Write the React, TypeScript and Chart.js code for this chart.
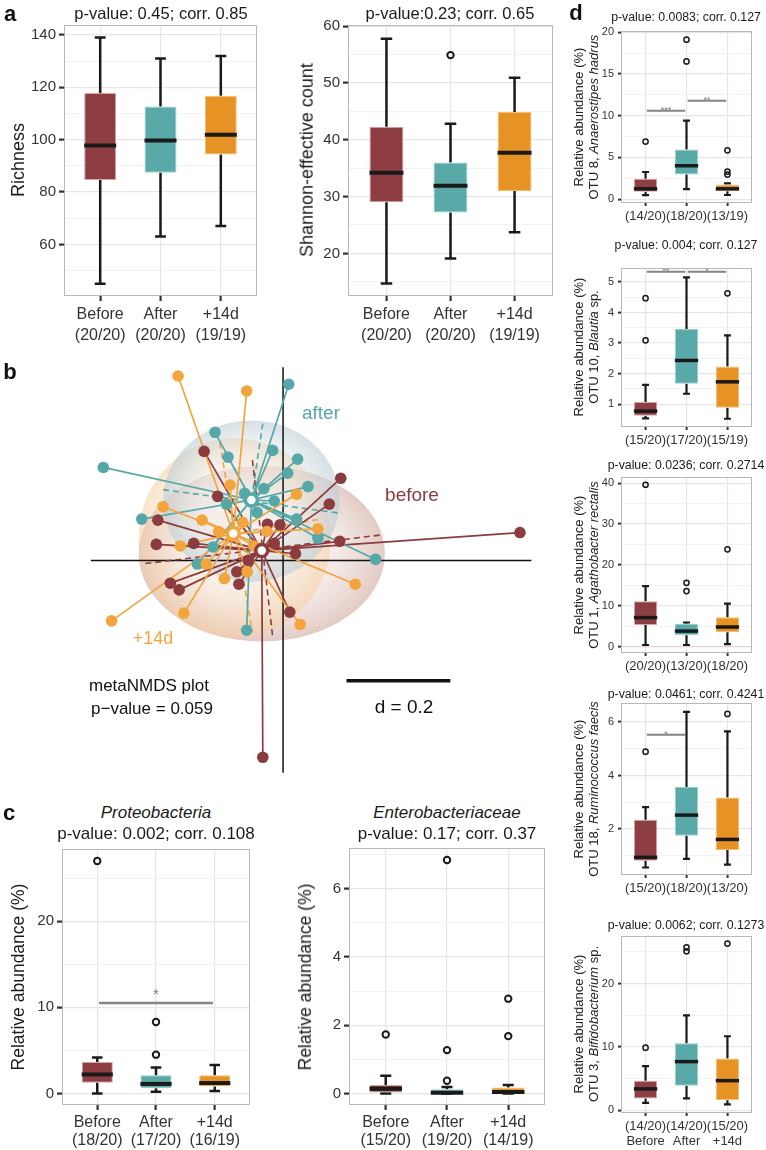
import React, { useEffect, useRef } from 'react';
import { Chart, registerables } from 'chart.js';

Chart.register(...registerables);

const FONT = '"Liberation Sans", Arial, Helvetica, sans-serif';
const CATS = ['Before', 'After', '+14d'];
const BOX_FILL = ['#8E3E43', '#58A9A8', '#E69224'];
const BOX_EDGE = ['#D9A3A5', '#93D1CE', '#F7BE6E'];
const NMDS_COL = ['#8C3B3F', '#55A8A7', '#F4A43C'];
const GRID_MAJOR = '#E6E6E6';
const GRID_MINOR = '#F3F3F3';

// ---------- panel a : Richness ----------
// [lower whisker, Q1, median, Q3, upper whisker]
const richnessStats = [
  [45, 84.6, 97.8, 117.8, 139],
  [63, 87.4, 99.7, 112.7, 131],
  [67, 94.3, 101.9, 116.8, 132],
];
const richnessOutliers = [[], [], []];
const richnessN = ['(20/20)', '(20/20)', '(19/19)'];
const richnessMajor = [60, 80, 100, 120, 140];
const richnessMinor = [50, 70, 90, 110, 130];

// ---------- panel a : Shannon ----------
const shannonStats = [
  [14.7, 29, 34.2, 42.3, 57.8],
  [19.1, 27.2, 31.9, 36, 42.8],
  [23.7, 31, 37.7, 44.9, 50.9],
];
const shannonOutliers = [[], [54.9], []];
const shannonN = ['(20/20)', '(20/20)', '(19/19)'];
const shannonMajor = [20, 30, 40, 50, 60];
const shannonMinor = [15, 25, 35, 45, 55];

// ---------- panel c : Proteobacteria ----------
const proteoStats = [
  [0, 1.25, 2.2, 3.65, 4.17],
  [0.2, 0.6, 1.1, 2.1, 3.0],
  [0.27, 0.8, 1.2, 2.1, 3.3],
];
const proteoOutliers = [[27], [8.3, 4.5], []];
const proteoN = ['(18/20)', '(17/20)', '(16/19)'];
const proteoMajor = [0, 10, 20];
const proteoMinor = [5, 15, 25];
const proteoSig = [[0, 2, 10.5, '*']];

// ---------- panel c : Enterobacteriaceae ----------
const enteroStats = [
  [0, 0.03, 0.14, 0.25, 0.52],
  [0, 0, 0.02, 0.12, 0.19],
  [0, 0, 0.04, 0.17, 0.25],
];
const enteroOutliers = [[1.73], [6.85, 1.27, 0.37], [2.78, 1.68]];
const enteroN = ['(15/20)', '(19/20)', '(14/19)'];
const enteroMajor = [0, 2, 4, 6];
const enteroMinor = [1, 3, 5, 7];

// ---------- panel d ----------
const d1Stats = [
  [0.48, 0.88, 1.24, 2.45, 3.25],
  [1.2, 2.96, 4.0, 5.95, 9.4],
  [0.5, 0.96, 1.24, 1.76, 1.9],
];
const d1Outliers = [[6.9], [16.5, 19.1], [5.85, 3.3, 2.95]];
const d1N = ['(14/20)', '(18/20)', '(13/19)'];
const d1Major = [0, 5, 10, 15, 20];
const d1Minor = [2.5, 7.5, 12.5, 17.5];
const d1Sig = [[0, 1, 10.6, '***'], [1, 2, 11.8, '**']];

const d2Stats = [
  [0.53, 0.62, 0.77, 1.07, 1.63],
  [1.34, 1.67, 2.43, 3.46, 5.15],
  [0.52, 0.88, 1.73, 2.23, 3.25],
];
const d2Outliers = [[4.47, 3.09], [], [4.63]];
const d2N = ['(15/20)', '(17/20)', '(15/19)'];
const d2Major = [1, 2, 3, 4, 5];
const d2Minor = [1.5, 2.5, 3.5, 4.5];
const d2Sig = [[0, 1, 5.34, '**'], [1, 2, 5.34, '*']];

const d3Stats = [
  [0.4, 5.3, 7.1, 11.1, 14.8],
  [0.4, 2.8, 3.8, 5.6, 5.9],
  [0.6, 3.5, 4.8, 7.2, 10.5],
];
const d3Outliers = [[39.6], [15.6, 13.6], [23.8]];
const d3N = ['(20/20)', '(13/20)', '(18/20)'];
const d3Major = [0, 10, 20, 30, 40];
const d3Minor = [5, 15, 25, 35];

const d4Stats = [
  [0.56, 0.81, 0.94, 2.35, 2.82],
  [0.88, 1.75, 2.52, 3.57, 6.38],
  [0.67, 1.21, 1.61, 3.18, 5.65],
];
const d4Outliers = [[4.89], [], [6.3]];
const d4N = ['(15/20)', '(18/20)', '(13/20)'];
const d4Major = [2, 4, 6];
const d4Minor = [1, 3, 5];
const d4Sig = [[0, 1, 5.52, '*']];

const d5Stats = [
  [1.2, 1.9, 3.4, 4.7, 7.0],
  [1.9, 3.9, 7.7, 10.6, 15],
  [0.95, 1.6, 4.7, 8.2, 11.7],
];
const d5Outliers = [[9.9], [25.7, 25.1], [26.3]];
const d5N = ['(14/20)', '(14/20)', '(15/20)'];
const d5Major = [0, 10, 20];
const d5Minor = [5, 15, 25];

// ---------- panel b : NMDS ----------
const nmdsBefore = [
  [-0.152, 0.211], [0.111, 0.159], [0.089, 0.109], [-0.241, 0.078], [-0.006, 0.069],
  [0.456, 0.054], [-0.126, 0.124], [0.109, 0.037], [-0.244, 0.031], [-0.172, 0.033],
  [-0.017, 0.033], [0.024, 0.013], [-0.089, -0.022], [-0.085, -0.046], [-0.217, -0.044],
  [-0.2, -0.057], [0.013, -0.1], [-0.039, -0.381], [-0.067, 0.0], [-0.03, 0.07],
];
const nmdsAfter = [
  [0.011, 0.341], [-0.131, 0.248], [-0.106, 0.2], [-0.02, 0.213], [0.028, 0.196],
  [0.009, 0.169], [0.048, 0.143], [-0.346, 0.18], [-0.109, 0.109], [-0.074, 0.13],
  [-0.017, 0.115], [-0.272, 0.08], [0.026, 0.08], [0.067, 0.043], [-0.135, 0.026],
  [0.178, 0.002], [-0.165, -0.007], [-0.07, -0.135], [-0.037, 0.139], [-0.05, 0.093],
];
const nmdsPlus14 = [
  [-0.202, 0.357], [-0.07, 0.328], [-0.102, 0.146], [0.026, 0.128], [-0.231, 0.104],
  [-0.156, 0.078], [0.067, 0.061], [-0.198, 0.028], [-0.148, -0.007], [-0.069, -0.022],
  [-0.113, -0.035], [0.139, -0.046], [-0.191, -0.102], [0.033, -0.124], [-0.33, -0.117],
  [-0.078, 0.074], [-0.056, 0.028], [-0.031, 0.056], [-0.124, 0.056],
];
const nmdsCentroids = [[-0.041, 0.019], [-0.061, 0.117], [-0.096, 0.052]];
// [cx, cy, rx, ry]
const nmdsEllipses = [
  [-0.041, 0.013, 0.237, 0.17],
  [-0.093, 0.044, 0.185, 0.193],
  [-0.061, 0.115, 0.17, 0.156],
];
const ELLIPSE_COL = [
  ['rgba(236,220,214,0.35)', 'rgba(204,160,148,0.55)'],
  ['rgba(250,236,220,0.35)', 'rgba(246,205,160,0.55)'],
  ['rgba(230,236,238,0.35)', 'rgba(186,204,212,0.6)'],
];
// dashed segments [x1, y1, x2, y2]
const nmdsDashBefore = [[-0.265, -0.006, 0.194, 0.05], [-0.059, 0.194, -0.02, -0.148]];
const nmdsDashAfter = [[-0.039, 0.265, -0.061, 0.117], [-0.231, 0.137, 0.113, 0.091]];
const nmdsDashPlus14 = [[-0.122, 0.228, -0.059, -0.139], [-0.096, 0.052, 0.072, 0.08]];
const nmdsAxes = [[-0.37, 0, 0.478, 0], [0, 0.374, 0, -0.411]];
const nmdsScaleBar = [[0.122, -0.233, 0.322, -0.233]];

// ---------- styles ----------
const STYLE_A = {
  yAxisW: 50, xAxisH: 52, tickFont: 15, tickPad: 3, tickLen: 5, tickW: 2.2,
  catFont: 16, catLH: 21, catPad: 3, whiskerW: 2.5, medianW: 4, outR: 3.2, outBW: 2,
  capFrac: 0.18, barPct: 0.53, sigW: 2.5, starFont: 15, starBase: -4,
};
const STYLE_C = { ...STYLE_A, catLH: 18, catPad: 4 };
const STYLE_D = {
  yAxisW: 30, xAxisH: 40, tickFont: 11, tickPad: 4, tickLen: 3, tickW: 2,
  catFont: 13, catLH: 15, catPad: 3, whiskerW: 2.2, medianW: 3.5, outR: 2.6, outBW: 1.5,
  capFrac: 0.17, barPct: 0.57, sigW: 2, starFont: 9, starBase: 2,
};

const two = (n: string[]) => CATS.map((c, i) => [c, n[i]]);

const PANELS: any[] = [
  { key: 'rich', stats: richnessStats, outliers: richnessOutliers, cats: two(richnessN), yMin: 40.3, yMax: 143.8, major: richnessMajor, minor: richnessMinor, sig: [], geo: { l: 64, t: 25, r: 257, b: 296 }, s: STYLE_A },
  { key: 'shan', stats: shannonStats, outliers: shannonOutliers, cats: two(shannonN), yMin: 12.5, yMax: 60.2, major: shannonMajor, minor: shannonMinor, sig: [], geo: { l: 348, t: 25, r: 553, b: 296 }, s: STYLE_A },
  { key: 'prot', stats: proteoStats, outliers: proteoOutliers, cats: two(proteoN), yMin: -1.35, yMax: 28.4, major: proteoMajor, minor: proteoMinor, sig: proteoSig, geo: { l: 62, t: 849, r: 250, b: 1105 }, s: STYLE_C },
  { key: 'ent', stats: enteroStats, outliers: enteroOutliers, cats: two(enteroN), yMin: -0.34, yMax: 7.2, major: enteroMajor, minor: enteroMinor, sig: [], geo: { l: 349, t: 848, r: 545, b: 1105 }, s: STYLE_C },
  { key: 'd1', stats: d1Stats, outliers: d1Outliers, cats: d1N, yMin: -0.46, yMax: 20.14, major: d1Major, minor: d1Minor, sig: d1Sig, geo: { l: 621, t: 31, r: 752, b: 203 }, s: STYLE_D },
  { key: 'd2', stats: d2Stats, outliers: d2Outliers, cats: d2N, yMin: 0.25, yMax: 5.46, major: d2Major, minor: d2Minor, sig: d2Sig, geo: { l: 621, t: 268, r: 752, b: 427 }, s: STYLE_D },
  { key: 'd3', stats: d3Stats, outliers: d3Outliers, cats: d3N, yMin: -1.56, yMax: 41.5, major: d3Major, minor: d3Minor, sig: [], hline: 0, geo: { l: 621, t: 477, r: 752, b: 653 }, s: STYLE_D },
  { key: 'd4', stats: d4Stats, outliers: d4Outliers, cats: d4N, yMin: 0.28, yMax: 6.71, major: d4Major, minor: d4Minor, sig: d4Sig, geo: { l: 621, t: 703, r: 752, b: 875 }, s: STYLE_D },
  { key: 'd5', stats: d5Stats, outliers: d5Outliers, cats: d5N.map((n, i) => [n, CATS[i]]), yMin: -0.4, yMax: 27.5, major: d5Major, minor: d5Minor, sig: [], geo: { l: 621, t: 936, r: 752, b: 1113 }, s: STYLE_D },
];

const PAD_T = 20;
const PAD_R = 20;

function makeBoxPlugin(p: any) {
  const s = p.s;
  return {
    id: 'box_' + p.key,
    beforeDatasetsDraw(chart: any) {
      const { ctx, scales, chartArea } = chart;
      const xs = scales.x;
      const ys = scales.y;
      const unit = xs.getPixelForValue(1) - xs.getPixelForValue(0);
      ctx.save();
      if (p.hline !== undefined && p.hline !== null) {
        const yy = ys.getPixelForValue(p.hline);
        ctx.strokeStyle = '#F2CACA';
        ctx.lineWidth = 1;
        ctx.beginPath();
        ctx.moveTo(chartArea.left, yy);
        ctx.lineTo(chartArea.right, yy);
        ctx.stroke();
      }
      ctx.strokeStyle = '#1A1A1A';
      ctx.lineWidth = s.whiskerW;
      p.stats.forEach((st: number[], i: number) => {
        const cx = xs.getPixelForValue(i);
        const half = (unit * s.capFrac) / 2;
        const pLo = ys.getPixelForValue(st[0]);
        const pQ1 = ys.getPixelForValue(st[1]);
        const pQ3 = ys.getPixelForValue(st[3]);
        const pHi = ys.getPixelForValue(st[4]);
        ctx.beginPath();
        ctx.moveTo(cx, pLo); ctx.lineTo(cx, pQ1);
        ctx.moveTo(cx, pQ3); ctx.lineTo(cx, pHi);
        ctx.moveTo(cx - half, pLo); ctx.lineTo(cx + half, pLo);
        ctx.moveTo(cx - half, pHi); ctx.lineTo(cx + half, pHi);
        ctx.stroke();
      });
      ctx.restore();
    },
    afterDatasetsDraw(chart: any) {
      const { ctx, scales } = chart;
      const xs = scales.x;
      const ys = scales.y;
      const unit = xs.getPixelForValue(1) - xs.getPixelForValue(0);
      ctx.save();
      ctx.strokeStyle = '#1A1A1A';
      ctx.lineWidth = s.medianW;
      p.stats.forEach((st: number[], i: number) => {
        const cx = xs.getPixelForValue(i);
        const w = unit * s.barPct;
        const py = ys.getPixelForValue(st[2]);
        ctx.beginPath();
        ctx.moveTo(cx - w / 2, py);
        ctx.lineTo(cx + w / 2, py);
        ctx.stroke();
      });
      p.sig.forEach((sg: any[]) => {
        const x1 = xs.getPixelForValue(sg[0] + 0.03);
        const x2 = xs.getPixelForValue(sg[1] - 0.03);
        const py = ys.getPixelForValue(sg[2]);
        ctx.strokeStyle = '#858585';
        ctx.lineWidth = s.sigW;
        ctx.beginPath();
        ctx.moveTo(x1, py);
        ctx.lineTo(x2, py);
        ctx.stroke();
        ctx.fillStyle = '#7A7A7A';
        ctx.font = `${s.starFont}px ${FONT}`;
        ctx.textAlign = 'center';
        ctx.textBaseline = 'alphabetic';
        ctx.fillText(sg[3], (x1 + x2) / 2, py + s.starBase);
      });
      ctx.restore();
    },
    afterDraw(chart: any) {
      const { ctx, chartArea } = chart;
      ctx.save();
      ctx.strokeStyle = '#B8B8B8';
      ctx.lineWidth = 1;
      ctx.strokeRect(chartArea.left + 0.5, chartArea.top + 0.5, chartArea.right - chartArea.left - 1, chartArea.bottom - chartArea.top - 1);
      ctx.restore();
    },
  };
}

function BoxChart({ p }: { p: any }) {
  const ref = useRef<HTMLCanvasElement>(null);
  const { geo, s } = p;
  const cw = s.yAxisW + (geo.r - geo.l) + PAD_R;
  const ch = PAD_T + (geo.b - geo.t) + s.xAxisH;
  useEffect(() => {
    if (!ref.current) return;
    const outlierPts = p.outliers.flatMap((arr: number[], i: number) => arr.map((v) => ({ x: i, y: v })));
    const allTicks = [...p.minor, ...p.major].sort((a: number, b: number) => a - b);
    const isMajor = (v: any) => p.major.includes(v);
    const cfg: any = {
      type: 'bar',
      data: {
        datasets: [
          {
            type: 'bar',
            data: p.stats.map((st: number[], i: number) => ({ x: i, y: [st[1], st[3]] })),
            backgroundColor: BOX_FILL,
            borderColor: BOX_EDGE,
            borderWidth: 1,
            borderSkipped: false,
            barPercentage: s.barPct,
            categoryPercentage: 1,
            order: 2,
          },
          {
            type: 'line',
            data: outlierPts,
            showLine: false,
            pointRadius: s.outR,
            pointHoverRadius: s.outR,
            pointBorderWidth: s.outBW,
            pointBackgroundColor: 'rgba(0,0,0,0)',
            pointBorderColor: '#1A1A1A',
            clip: false,
            order: 1,
          },
        ],
      },
      options: {
        responsive: false,
        animation: false,
        events: [],
        layout: { padding: { top: PAD_T, right: PAD_R, left: 0, bottom: 0 } },
        plugins: { legend: { display: false }, tooltip: { enabled: false } },
        scales: {
          x: {
            type: 'linear',
            min: -0.6,
            max: 2.6,
            offset: false,
            bounds: 'data',
            afterBuildTicks: (sc: any) => { sc.ticks = p.cats.map((_: any, i: number) => ({ value: i })); },
            afterFit: (sc: any) => { sc.height = s.xAxisH; },
            ticks: {
              autoSkip: false,
              maxRotation: 0,
              callback: (v: any) => p.cats[v],
              font: { family: FONT, size: s.catFont, lineHeight: s.catLH + 'px' },
              color: '#333333',
              padding: s.catPad,
            },
            grid: { offset: false, color: GRID_MAJOR, lineWidth: 1.2, tickLength: s.tickLen, tickColor: '#333333', tickWidth: s.tickW, drawTicks: true },
            border: { display: false },
          },
          y: {
            type: 'linear',
            min: p.yMin,
            max: p.yMax,
            bounds: 'data',
            afterBuildTicks: (sc: any) => { sc.ticks = allTicks.map((v: number) => ({ value: v })); },
            afterFit: (sc: any) => { sc.width = s.yAxisW; },
            ticks: {
              autoSkip: false,
              callback: (v: any) => (isMajor(v) ? String(v) : ''),
              font: { family: FONT, size: s.tickFont },
              color: '#333333',
              padding: s.tickPad,
            },
            grid: {
              color: (c: any) => (isMajor(c.tick && c.tick.value) ? GRID_MAJOR : GRID_MINOR),
              lineWidth: (c: any) => (isMajor(c.tick && c.tick.value) ? 1.2 : 1),
              tickLength: s.tickLen,
              tickWidth: s.tickW,
              tickColor: (c: any) => (isMajor(c.tick && c.tick.value) ? '#333333' : 'rgba(0,0,0,0)'),
              drawTicks: true,
            },
            border: { display: false },
          },
        },
      },
      plugins: [makeBoxPlugin(p)],
    };
    const chart = new Chart(ref.current, cfg);
    return () => chart.destroy();
  }, []);
  return (
    <canvas
      ref={ref}
      width={cw}
      height={ch}
      style={{ position: 'absolute', left: geo.l - s.yAxisW, top: geo.t - PAD_T, width: cw, height: ch }}
    />
  );
}

// NMDS canvas geometry (pixels) and data window
const NM_L = 60, NM_T = 350, NM_W = 500, NM_H = 440;
const NM_XMIN = -0.4111, NM_XMAX = 0.5148, NM_YMIN = -0.4259, NM_YMAX = 0.3889;

const ellipsePlugin = {
  id: 'nmdsEllipses',
  beforeDatasetsDraw(chart: any) {
    const { ctx, scales } = chart;
    const xs = scales.x;
    const ys = scales.y;
    nmdsEllipses.forEach((e, i) => {
      const cx = xs.getPixelForValue(e[0]);
      const cy = ys.getPixelForValue(e[1]);
      const rx = Math.abs(xs.getPixelForValue(e[0] + e[2]) - cx);
      const ry = Math.abs(ys.getPixelForValue(e[1] + e[3]) - cy);
      ctx.save();
      ctx.translate(cx, cy);
      ctx.scale(1, ry / rx);
      const g = ctx.createRadialGradient(-rx * 0.1, -rx * 0.12, 0, 0, 0, rx);
      g.addColorStop(0, ELLIPSE_COL[i][0]);
      g.addColorStop(0.5, ELLIPSE_COL[i][0]);
      g.addColorStop(1, ELLIPSE_COL[i][1]);
      ctx.beginPath();
      ctx.arc(0, 0, rx, 0, Math.PI * 2);
      ctx.fillStyle = g;
      ctx.fill();
      ctx.restore();
    });
  },
};

function NmdsChart() {
  const ref = useRef<HTMLCanvasElement>(null);
  useEffect(() => {
    if (!ref.current) return;
    const groups = [nmdsBefore, nmdsAfter, nmdsPlus14];
    const dashes = [nmdsDashBefore, nmdsDashAfter, nmdsDashPlus14];
    const gap = { x: NaN, y: NaN };
    const spokes = (pts: number[][], c: number[]) => pts.flatMap((q) => [{ x: c[0], y: c[1] }, { x: q[0], y: q[1] }, gap]);
    const segs = (list: number[][]) => list.flatMap((q) => [{ x: q[0], y: q[1] }, { x: q[2], y: q[3] }, gap]);
    const datasets: any[] = [];
    datasets.push({ type: 'line', data: segs(nmdsAxes), borderColor: '#111111', borderWidth: 1.5, pointRadius: 0, order: 6 });
    datasets.push({ type: 'line', data: segs(nmdsScaleBar), borderColor: '#111111', borderWidth: 3.5, pointRadius: 0, order: 6 });
    dashes.forEach((d, i) => {
      datasets.push({ type: 'line', data: segs(d), borderColor: NMDS_COL[i], borderWidth: 1.6, borderDash: [6, 4], pointRadius: 0, order: 5 });
    });
    groups.forEach((g, i) => {
      datasets.push({ type: 'line', data: spokes(g, nmdsCentroids[i]), borderColor: NMDS_COL[i], borderWidth: 1.7, pointRadius: 0, order: 4 - i * 0.1 });
    });
    groups.forEach((g, i) => {
      datasets.push({ type: 'scatter', data: g.map((q) => ({ x: q[0], y: q[1] })), backgroundColor: NMDS_COL[i], borderColor: NMDS_COL[i], pointRadius: 5.8, pointBorderWidth: 0, order: 2 - i * 0.1 });
    });
    datasets.push({
      type: 'scatter',
      data: nmdsCentroids.map((c) => ({ x: c[0], y: c[1] })),
      backgroundColor: '#FFFFFF',
      borderColor: NMDS_COL,
      pointBackgroundColor: '#FFFFFF',
      pointBorderColor: NMDS_COL,
      pointRadius: 6,
      pointBorderWidth: 3.5,
      order: 0,
    });
    const chart = new Chart(ref.current, {
      type: 'scatter',
      data: { datasets },
      options: {
        responsive: false,
        animation: false,
        events: [],
        layout: { padding: 0 },
        plugins: { legend: { display: false }, tooltip: { enabled: false } },
        scales: {
          x: { type: 'linear', min: NM_XMIN, max: NM_XMAX, display: false },
          y: { type: 'linear', min: NM_YMIN, max: NM_YMAX, display: false },
        },
      } as any,
      plugins: [ellipsePlugin],
    } as any);
    return () => chart.destroy();
  }, []);
  return (
    <canvas ref={ref} width={NM_W} height={NM_H} style={{ position: 'absolute', left: NM_L, top: NM_T, width: NM_W, height: NM_H }} />
  );
}

function Txt(props: any) {
  const { x, y, size, children, color = '#1A1A1A', weight = 400, italic = false, rotate = false, anchor = 'middle', lh } = props;
  const tx = anchor === 'start' ? '0' : '-50%';
  return (
    <div
      style={{
        position: 'absolute',
        left: x,
        top: y,
        transform: `translate(${tx},-50%)${rotate ? ' rotate(-90deg)' : ''}`,
        fontSize: size,
        fontWeight: weight,
        fontStyle: italic ? 'italic' : 'normal',
        color,
        whiteSpace: 'nowrap',
        lineHeight: lh ? lh + 'px' : 1.15,
        textAlign: 'center',
        fontFamily: FONT,
      }}
    >
      {children}
    </div>
  );
}

function DTitle({ y, name }: { y: number; name: any }) {
  return (
    <Txt x={586} y={y} size={13} rotate lh={15} color="#222">
      Relative abundance (%)
      <br />
      {name}
    </Txt>
  );
}

export default function App() {
  return (
    <div style={{ position: 'absolute', left: 0, top: 0, width: 766, height: 1150, background: '#FFFFFF', overflow: 'hidden', fontFamily: FONT }}>
      {PANELS.map((p) => (
        <BoxChart key={p.key} p={p} />
      ))}
      <NmdsChart />

      {/* panel letters */}
      <Txt x={10} y={14} size={22} weight={700} color="#111">a</Txt>
      <Txt x={10} y={372} size={22} weight={700} color="#111">b</Txt>
      <Txt x={9} y={813} size={22} weight={700} color="#111">c</Txt>
      <Txt x={576} y={13} size={22} weight={700} color="#111">d</Txt>

      {/* panel a */}
      <Txt x={161} y={13} size={16.5}>p-value: 0.45; corr. 0.85</Txt>
      <Txt x={450} y={13} size={16.5}>p-value:0.23; corr. 0.65</Txt>
      <Txt x={18} y={160} size={18} rotate>Richness</Txt>
      <Txt x={307} y={160} size={18} rotate>Shannon-effective count</Txt>

      {/* panel b */}
      <Txt x={321} y={413} size={19} color={NMDS_COL[1]}>after</Txt>
      <Txt x={412} y={495} size={19} color={NMDS_COL[0]}>before</Txt>
      <Txt x={153} y={638} size={18} color={NMDS_COL[2]}>+14d</Txt>
      <Txt x={89} y={686} size={17} anchor="start" color="#111">metaNMDS plot</Txt>
      <Txt x={91} y={709} size={17} anchor="start" color="#111">p−value = 0.059</Txt>
      <Txt x={404} y={707} size={19} color="#111">d = 0.2</Txt>

      {/* panel c */}
      <Txt x={156} y={813} size={17} italic>Proteobacteria</Txt>
      <Txt x={156} y={834} size={17}>p-value: 0.002; corr. 0.108</Txt>
      <Txt x={447} y={813} size={17} italic>Enterobacteriaceae</Txt>
      <Txt x={447} y={834} size={17}>p-value: 0.17; corr. 0.37</Txt>
      <Txt x={18} y={977} size={17.5} rotate>Relative abundance (%)</Txt>
      <Txt x={305} y={977} size={17.5} rotate>Relative abundance (%)</Txt>

      {/* panel d */}
      <Txt x={686} y={17} size={12.3}>p-value: 0.0083; corr. 0.127</Txt>
      <Txt x={686} y={245} size={12.3}>p-value: 0.004; corr. 0.127</Txt>
      <Txt x={686} y={465} size={12.3}>p-value: 0.0236; corr. 0.2714</Txt>
      <Txt x={686} y={694} size={12.3}>p-value: 0.0461; corr. 0.4241</Txt>
      <Txt x={686} y={925} size={12.3}>p-value: 0.0062; corr. 0.1273</Txt>
      <DTitle y={117} name={<>OTU 8, <i>Anaerostipes hadrus</i></>} />
      <DTitle y={347} name={<>OTU 10, <i>Blautia</i> sp.</>} />
      <DTitle y={565} name={<>OTU 1, <i>Agathobacter rectalis</i></>} />
      <DTitle y={789} name={<>OTU 18, <i>Ruminococcus faecis</i></>} />
      <DTitle y={1024} name={<>OTU 3, <i>Bifidobacterium</i> sp.</>} />
    </div>
  );
}
